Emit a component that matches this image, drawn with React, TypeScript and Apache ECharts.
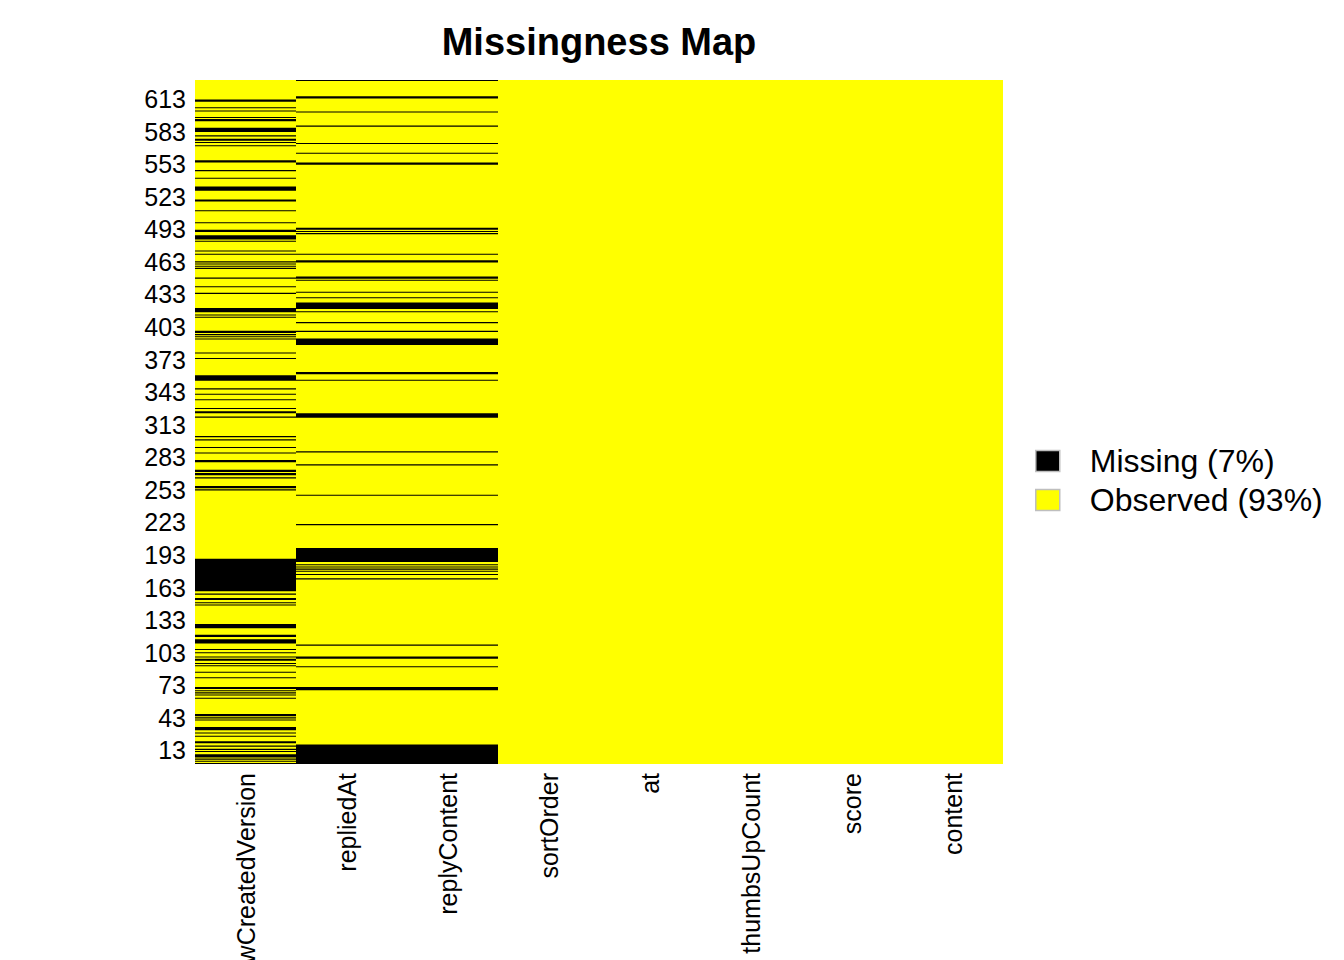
import React, { useEffect, useRef } from "react";
import * as echarts from "echarts";

// ---- data ----
const columns = [
  "reviewCreatedVersion",
  "repliedAt",
  "replyContent",
  "sortOrder",
  "at",
  "thumbsUpCount",
  "score",
  "content",
];
const nRows = 630;

// row numbers (1 = bottom row) whose value is missing
const missingReviewCreatedVersion = [
  612, 611, 605, 602, 596, 594, 593, 586, 585, 584, 583, 579, 576, 575, 573, 570,
  556, 555, 547, 540, 532, 531, 530, 529,
  520, 519, 510, 499, 492, 491, 487, 486, 485, 484, 482, 473, 470, 463, 461, 459,
  457, 448, 440, 434,
  420, 419, 418, 417, 414, 412, 399, 398, 396, 394, 392, 379, 374, 358, 357, 356,
  355, 354, 346, 341, 336, 328, 325, 324, 320,
  302, 299, 292, 287, 280, 279, 271, 270, 268, 267, 264, 256, 255, 253,
  189, 188, 187, 186, 185, 184, 183, 182, 181, 180, 179, 178, 177, 176, 175, 174,
  173, 172, 171, 170, 169, 168, 167, 166, 165, 164, 163, 162, 161, 160,
  157, 153, 152, 149, 147, 129, 128, 127, 126, 119, 118, 115, 114, 113, 112, 106, 103,
  99, 97, 96, 93, 91, 85, 80, 71, 70, 68, 66, 64, 61, 46, 45, 43, 41, 34, 33, 32,
  29, 26, 21, 20, 17, 14, 12, 9, 8, 7, 5, 3, 1,
];
const missingRepliedAt = [
  630, 615, 614, 601, 588, 572, 563, 554, 553,
  494, 493, 491, 489, 470, 464, 463, 449, 448, 446, 435, 430, 425, 424, 423, 422, 421, 420,
  417, 407, 399, 392, 391, 390, 389, 388, 387, 361, 360, 354, 323, 322, 321, 320,
  288, 276, 248, 221,
  199, 198, 197, 196, 195, 194, 193, 192, 191, 190, 189, 188, 187, 184, 182, 180,
  178, 175, 171, 110,
  99, 98, 90, 71, 70, 69, 18, 17, 16, 15, 14, 13, 12, 11, 10, 9, 8, 7, 6, 5, 4, 3, 2, 1,
];
const missingReplyContent = [
  630, 615, 614, 601, 588, 572, 563, 554, 553,
  494, 493, 491, 489, 470, 464, 463, 449, 448, 446, 435, 430, 425, 424, 423, 422, 421, 420,
  417, 407, 399, 392, 391, 390, 389, 388, 387, 361, 360, 354, 323, 322, 321, 320,
  288, 276, 248, 221,
  199, 198, 197, 196, 195, 194, 193, 192, 191, 190, 189, 188, 187, 184, 182, 180,
  178, 175, 171, 110,
  99, 98, 90, 71, 70, 69, 18, 17, 16, 15, 14, 13, 12, 11, 10, 9, 8, 7, 6, 5, 4, 3, 2, 1,
];
const missingSortOrder: number[] = [];
const missingAt: number[] = [];
const missingThumbsUpCount: number[] = [];
const missingScore: number[] = [];
const missingContent: number[] = [];

const missingByColumn: number[][] = [
  missingReviewCreatedVersion,
  missingRepliedAt,
  missingReplyContent,
  missingSortOrder,
  missingAt,
  missingThumbsUpCount,
  missingScore,
  missingContent,
];

const FONT = '"Liberation Sans", Arial, Helvetica, sans-serif';

// ---- derived ----
const rowLabels = Array.from({ length: nRows }, (_, i) => String(i + 1));

function buildRuns(wantMissing: boolean) {
  const out: number[][] = [];
  missingByColumn.forEach((list, ci) => {
    const set = new Set(list);
    let start = -1;
    for (let r = 1; r <= nRows + 1; r++) {
      const match = r <= nRows && set.has(r) === wantMissing;
      if (match && start < 0) start = r;
      if (!match && start >= 0) {
        out.push([ci, start - 1, r - 2]);
        start = -1;
      }
    }
  });
  return out;
}

const totalCells = nRows * columns.length;
const missingCount = missingByColumn.reduce((s, l) => s + new Set(l).size, 0);
const missPct = Math.round((missingCount / totalCells) * 100);
const missName = `Missing (${missPct}%)`;
const obsName = `Observed (${100 - missPct}%)`;

function makeRenderItem(color: string) {
  return (params: any, api: any) => {
    const ci = api.value(0);
    const s = api.value(1);
    const e = api.value(2);
    const pBottom = api.coord([ci, s]);
    const pTop = api.coord([ci, e]);
    const size = api.size([1, 1]);
    const w = size[0];
    const h = size[1];
    return {
      type: "rect",
      shape: {
        x: pBottom[0] - w / 2,
        y: pTop[1] - h / 2,
        width: w,
        height: pBottom[1] - pTop[1] + h,
      },
      style: { fill: color },
    };
  };
}

export default function App() {
  const ref = useRef<HTMLDivElement>(null);
  useEffect(() => {
    if (!ref.current) return;
    const chart = echarts.init(ref.current, null, { renderer: "svg" });
    chart.setOption({
      animation: false,
      backgroundColor: "#ffffff",
      grid: {
        left: 195,
        top: 80,
        width: 808,
        height: 684,
        show: true,
        backgroundColor: "#ffff00",
        borderWidth: 0,
        containLabel: false,
        outerBoundsMode: "none",
      },
      graphic: [
        {
          type: "text",
          x: 599,
          y: 42,
          style: {
            text: "Missingness Map",
            fontSize: 38,
            fontWeight: "bold",
            fontFamily: FONT,
            fill: "#000",
            align: "center",
            verticalAlign: "middle",
          },
        },
      ],
      legend: {
        orient: "vertical",
        left: 1035,
        top: 445,
        padding: 0,
        itemWidth: 24,
        itemHeight: 21,
        itemGap: 7,
        icon: "rect",
        selectedMode: false,
        textStyle: {
          fontSize: 32,
          color: "#000",
          fontFamily: FONT,
          padding: [0, 0, 0, 25],
        },
        data: [
          { name: missName, itemStyle: { borderColor: "#bebebe", borderWidth: 1.5 } },
          { name: obsName, itemStyle: { borderColor: "#bebebe", borderWidth: 1.5 } },
        ],
      },
      xAxis: {
        type: "category",
        data: columns,
        position: "bottom",
        axisLine: { show: false },
        axisTick: { show: false },
        splitLine: { show: false },
        axisLabel: {
          rotate: 90,
          interval: 0,
          fontSize: 25,
          color: "#000",
          fontFamily: FONT,
          margin: 9,
        },
      },
      yAxis: {
        type: "category",
        data: rowLabels,
        axisLine: { show: false },
        axisTick: { show: false },
        splitLine: { show: false },
        axisLabel: {
          fontSize: 25,
          color: "#000",
          fontFamily: FONT,
          margin: 9,
          interval: (_i: number, v: string) => (Number(v) - 13) % 30 === 0,
        },
      },
      series: [
        {
          name: obsName,
          type: "custom",
          renderItem: makeRenderItem("#ffff00"),
          itemStyle: { color: "#ffff00" },
          encode: { x: 0, y: [1, 2] },
          data: buildRuns(false),
          silent: true,
        },
        {
          name: missName,
          type: "custom",
          renderItem: makeRenderItem("#000000"),
          itemStyle: { color: "#000000" },
          encode: { x: 0, y: [1, 2] },
          data: buildRuns(true),
          silent: true,
        },
      ],
    });
    return () => chart.dispose();
  }, []);
  return (
    <div
      ref={ref}
      style={{ position: "absolute", left: 0, top: 0, width: 1344, height: 960 }}
    />
  );
}
